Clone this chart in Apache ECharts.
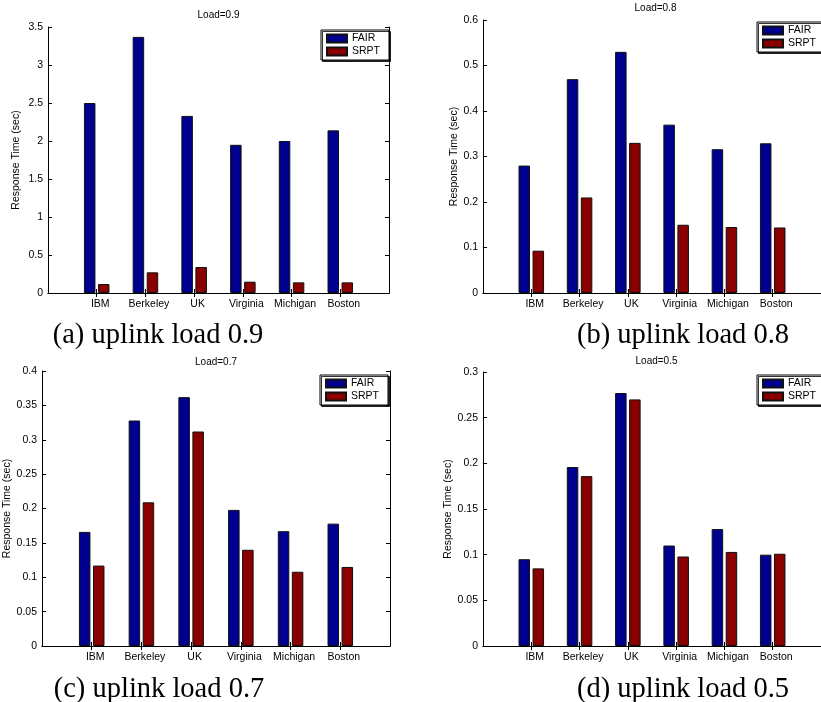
<!DOCTYPE html>
<html>
<head>
<meta charset="utf-8">
<script src="https://cdn.jsdelivr.net/npm/echarts@6/dist/echarts.min.js"></script>
<style>
html,body{margin:0;padding:0;background:#fff;}
#chart{width:821px;height:702px;}
</style>
</head>
<body>
<div id="chart"></div>
<script>
const categories = ['IBM', 'Berkeley', 'UK', 'Virginia', 'Michigan', 'Boston'];
const seriesNames = ['FAIR', 'SRPT'];
const panelTitles = ['Load=0.9', 'Load=0.8', 'Load=0.7', 'Load=0.5'];
const captions = ['(a) uplink load 0.9', '(b) uplink load 0.8', '(c) uplink load 0.7', '(d) uplink load 0.5'];
const yAxisName = 'Response Time (sec)';

const fair09 = [2.50, 3.37, 2.33, 1.95, 2.00, 2.14];
const srpt09 = [0.118, 0.272, 0.342, 0.149, 0.140, 0.140];
const fair08 = [0.280, 0.470, 0.530, 0.370, 0.316, 0.329];
const srpt08 = [0.093, 0.210, 0.330, 0.150, 0.145, 0.144];
const fair07 = [0.166, 0.328, 0.362, 0.198, 0.167, 0.178];
const srpt07 = [0.117, 0.209, 0.312, 0.140, 0.108, 0.115];
const fair05 = [0.095, 0.196, 0.277, 0.110, 0.128, 0.100];
const srpt05 = [0.085, 0.186, 0.270, 0.098, 0.103, 0.101];

const yMax = [3.5, 0.6, 0.4, 0.3];
const yInterval = [0.5, 0.1, 0.05, 0.05];

const panelData = [[fair09, srpt09], [fair08, srpt08], [fair07, srpt07], [fair05, srpt05]];

// layout (pixels)
const boxes = [
  {left: 48, top: 27, width: 341, bottom: 293},
  {left: 483, top: 20, width: 345, bottom: 293},
  {left: 42, top: 371, width: 348, bottom: 646},
  {left: 483, top: 372, width: 347, bottom: 646}
];
const titleTop = [10.5, 3.5, 357, 356];
const nameGaps = [26, 21, 22, 21];
const legendPos = [{left: 321, top: 30}, {left: 757, top: 22}, {left: 320, top: 375}, {left: 757, top: 375}];
const captionPos = [{x: 158, y: 321}, {x: 683, y: 321}, {x: 159, y: 675}, {x: 683, y: 675}];
const showRightAxis = [true, false, true, false];

const colors = ['#000090', '#8a0000'];
const font = 'Liberation Sans, Arial, sans-serif';
const xCats = [''].concat(categories).concat(['']);
const tickFn = function (i) { return i >= 1 && i <= 6; };

const grid = [], xAxis = [], yAxis = [], series = [], title = [], legend = [];

boxes.forEach(function (b, p) {
  grid.push({left: b.left, top: b.top, width: b.width, height: b.bottom - b.top, containLabel: false});
  const xBase = {
    type: 'category', gridIndex: p, data: xCats, boundaryGap: false,
    axisLine: {show: true, lineStyle: {color: '#000', width: 1}},
    axisTick: {show: true, inside: true, length: 4, interval: tickFn, lineStyle: {color: '#000'}},
    splitLine: {show: false}
  };
  xAxis.push(Object.assign({}, xBase, {
    position: 'bottom',
    axisLabel: {show: true, interval: tickFn, color: '#000', fontSize: 10.5, fontFamily: font, margin: 6, padding: [0, 0, 0, 7]}
  }));
  xAxis.push(Object.assign({}, xBase, {position: 'top', axisLabel: {show: false}}));
  const yBase = {
    type: 'value', gridIndex: p, min: 0, max: yMax[p], interval: yInterval[p],
    axisLine: {show: true, lineStyle: {color: '#000', width: 1}},
    axisTick: {show: true, inside: true, length: 4, lineStyle: {color: '#000'}},
    splitLine: {show: false}
  };
  yAxis.push(Object.assign({}, yBase, {
    position: 'left',
    axisLabel: {show: true, color: '#000', fontSize: 10.5, fontFamily: font, margin: 5},
    name: yAxisName, nameLocation: 'middle', nameRotate: 90, nameGap: nameGaps[p],
    nameTextStyle: {color: '#000', fontSize: 10.5, fontFamily: font}
  }));
  yAxis.push(Object.assign({}, yBase, {position: 'right', show: showRightAxis[p], axisLabel: {show: false}}));

  seriesNames.forEach(function (nm, s) {
    series.push({
      name: nm, type: 'bar', xAxisIndex: 2 * p, yAxisIndex: 2 * p,
      data: [null].concat(panelData[p][s]).concat([null]),
      barWidth: 11.5, barGap: '22%',
      itemStyle: {color: colors[s], borderColor: '#111', borderWidth: 1},
      emphasis: {disabled: true},
      animation: false
    });
  });

  title.push({
    text: panelTitles[p], left: b.left + b.width / 2, top: titleTop[p], textAlign: 'center', padding: 0,
    textStyle: {fontSize: 10, fontWeight: 'normal', color: '#000', fontFamily: font}
  });
  title.push({
    text: captions[p], left: captionPos[p].x, top: captionPos[p].y, textAlign: 'center', padding: 0,
    textStyle: {fontSize: 28.5, fontWeight: 'normal', color: '#000', fontFamily: 'Liberation Serif, Times New Roman, serif'}
  });

  legend.push({
    data: seriesNames, orient: 'vertical', left: legendPos[p].left, top: legendPos[p].top,
    itemWidth: 20, itemHeight: 8, itemGap: 2, icon: 'rect',
    padding: [3, 9, 3, 5],
    borderColor: '#000', borderWidth: 1, backgroundColor: '#fff',
    shadowColor: 'rgba(0,0,0,0.8)', shadowOffsetX: 1.5, shadowOffsetY: 1.5, shadowBlur: 0,
    textStyle: {fontSize: 10.5, color: '#000', fontFamily: font},
    selectedMode: false
  });
});

const chart = echarts.init(document.getElementById('chart'), null, {renderer: 'canvas'});
chart.setOption({
  backgroundColor: '#fff',
  animation: false,
  title: title,
  legend: legend,
  grid: grid,
  xAxis: xAxis,
  yAxis: yAxis,
  series: series
});
</script>
</body>
</html>
